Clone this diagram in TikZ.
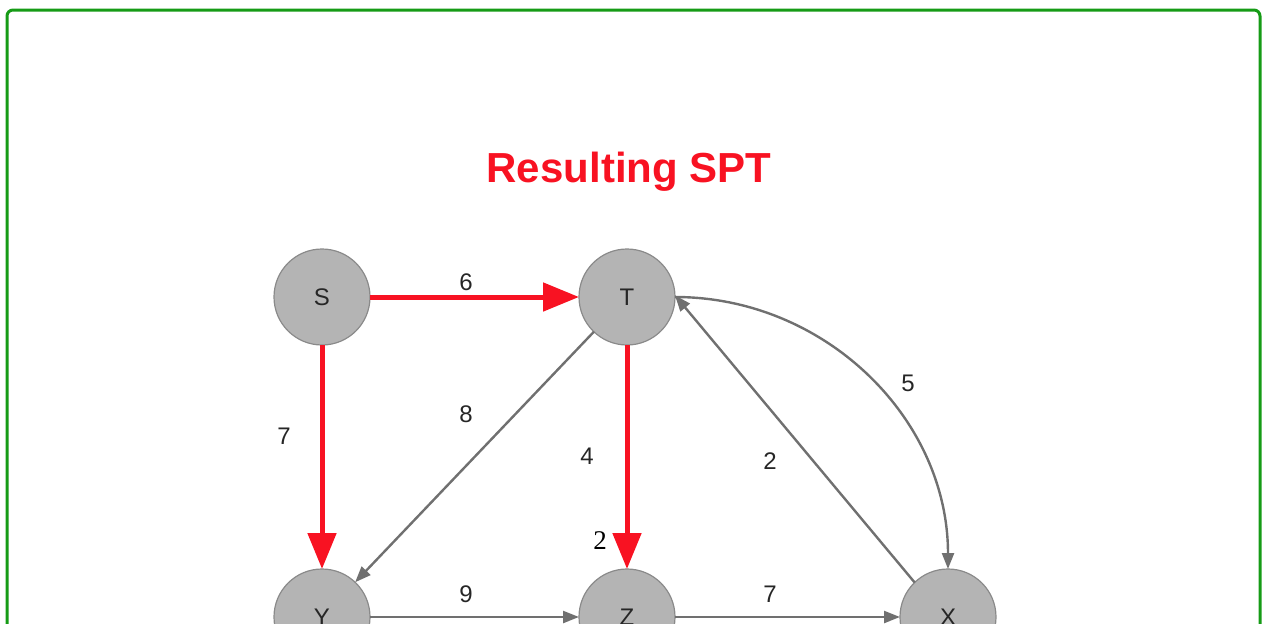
\documentclass[tikz,border=0pt]{standalone}
\usepackage{fontspec}
\newfontfamily\graphfont{Liberation Sans}
\newfontfamily\markfont{Liberation Serif}
\usetikzlibrary{arrows.meta}

\definecolor{framegreen}{RGB}{22,155,22}
\definecolor{sptred}{RGB}{248,18,34}
\definecolor{edgegray}{RGB}{112,112,112}
\definecolor{vertexfill}{RGB}{180,180,180}
\definecolor{vertexline}{RGB}{138,138,138}

\tikzset{
  vertex/.style={circle, fill=vertexfill, draw=vertexline, line width=1.2pt,
    minimum size=96pt, inner sep=0pt, outer sep=0pt,
    font=\graphfont\fontsize{24}{28}\selectfont, text=black!85},
  weight/.style={font=\graphfont\fontsize{24}{28}\selectfont, text=black!85},
  sptedge/.style={draw=sptred, line width=5pt,
    -{Triangle[length=36pt, width=28pt]}},
  plainedge/.style={draw=edgegray, line width=2.4pt,
    -{Triangle[length=16pt, width=12pt]}}
}

\begin{document}
\begin{tikzpicture}[x=1pt, y=-1pt]
\clip (0,0) rectangle (1262,624);

% outer frame
\draw[framegreen, line width=3pt, rounded corners=6pt] (7,10) rectangle (1260,660);

% title
\node[text=sptred, font=\graphfont\bfseries\fontsize{42}{48}\selectfont] (title) at (629,172) {Resulting SPT};

% vertices
\node[vertex] (S) at (322,297) {S};
\node[vertex] (T) at (627,297) {T};
\node[vertex] (Y) at (322,617) {Y};
\node[vertex] (Z) at (627,617) {Z};
\node[vertex] (X) at (948,617) {X};

% edges of the shortest path tree
\draw[sptedge] (S) -- (T);
\draw[sptedge] (S) -- (Y);
\draw[sptedge] (T) -- (Z);

% remaining edges
\draw[plainedge] (T) -- (Y);
\draw[plainedge] (Y) -- (Z);
\draw[plainedge] (Z) -- (X);
\draw[plainedge] (X.134) -- (T.2);
\draw[plainedge] (T.east) to[out=0, in=90] (X.north);

% weights
\node[weight] (wST) at (466,282) {6};
\node[weight] (wSY) at (284,436) {7};
\node[weight] (wTY) at (466,414) {8};
\node[weight] (wTZ) at (587,456) {4};
\node[weight] (wXT) at (770,461) {2};
\node[weight] (wYZ) at (466,594) {9};
\node[weight] (wZX) at (770,594) {7};
\node[weight] (wTX) at (908,383) {5};
\node[font=\markfont\fontsize{27}{31}\selectfont] (dZ) at (600,541) {2};

\end{tikzpicture}
\end{document}
